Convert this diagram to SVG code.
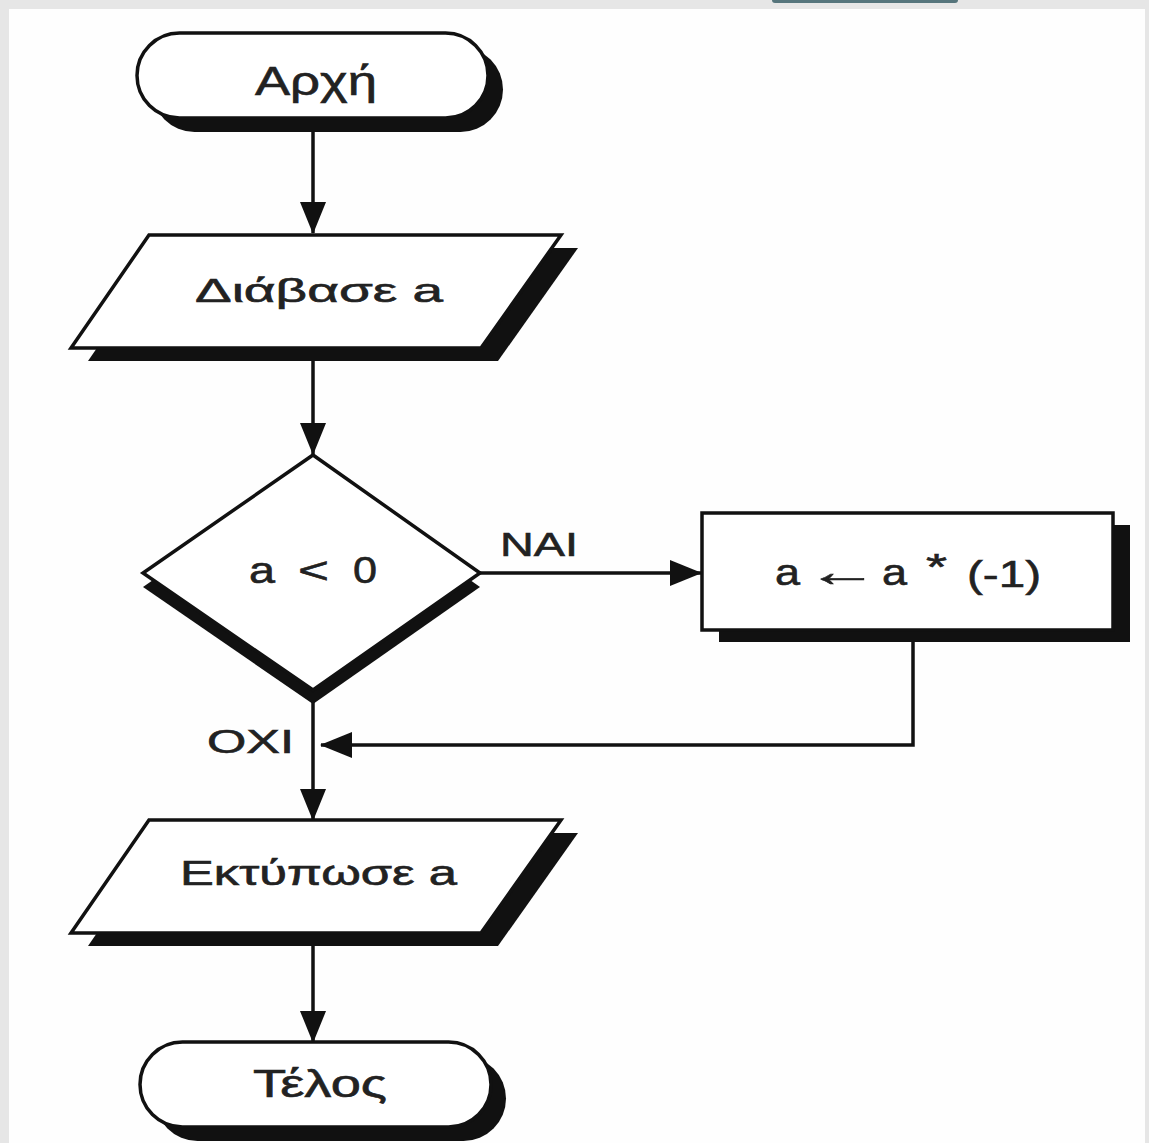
<svg xmlns="http://www.w3.org/2000/svg" width="1149" height="1143" viewBox="0 0 1149 1143">
<defs>
<style>
.bg{fill:#e6e6e6}
.panel{fill:#fefefe}
.shadow{fill:#111}
.shape{fill:#fff;stroke:#111;stroke-width:3.5;stroke-linejoin:miter}
.conn{fill:none;stroke:#111;stroke-width:3.5}
.t{font-family:"Liberation Sans","DejaVu Sans",Arial,sans-serif;fill:#222;stroke:#222;stroke-width:0.6}
</style>
<marker id="ah" markerUnits="userSpaceOnUse" markerWidth="32" markerHeight="28" refX="31" refY="14" orient="auto">
<path d="M0,1 L32,14 L0,27 Z" fill="#111"/>
</marker>
</defs>
<rect class="bg" x="0" y="0" width="1149" height="1143"/>
<rect class="panel" x="9" y="9" width="1136" height="1134"/>
<rect x="772" y="-3" width="186" height="6" rx="3" fill="#56757c"/>

<g id="connectors">
<path class="conn" d="M313,132 V233" marker-end="url(#ah)"/>
<path class="conn" d="M313,361 V454" marker-end="url(#ah)"/>
<path class="conn" d="M313,695 V820" marker-end="url(#ah)"/>
<path class="conn" d="M313,946 V1042" marker-end="url(#ah)"/>
<path class="conn" d="M480,573 H701" marker-end="url(#ah)"/>
<path class="conn" d="M913,642 V745 H321" marker-end="url(#ah)"/>
<text class="t" x="500" y="556" font-size="34" textLength="78" lengthAdjust="spacingAndGlyphs">NAI</text>
<text class="t" x="207" y="753" font-size="33" textLength="87" lengthAdjust="spacingAndGlyphs">OXI</text>
</g>

<g id="start">
<rect class="shadow" x="152" y="47" width="351" height="85" rx="42.5"/>
<rect class="shape" x="137" y="33" width="351" height="85" rx="42.5"/>
<text class="t" x="255" y="95" font-size="40" textLength="122" lengthAdjust="spacingAndGlyphs">Αρχή</text>
</g>

<g id="read">
<polygon class="shadow" points="166,248 578,248 498,361 88,361"/>
<polygon class="shape" points="149,235 561,235 481,348 71,348"/>
<text class="t" x="195" y="302" font-size="34" textLength="248" lengthAdjust="spacingAndGlyphs">Διάβασε a</text>
</g>

<g id="decision">
<polygon class="shadow" points="313,469 480,587 313,704 143,587"/>
<polygon class="shape" points="313,455 480,573 313,690 143,573"/>
<text class="t" x="249" y="583" font-size="37" textLength="26" lengthAdjust="spacingAndGlyphs">a</text>
<text class="t" x="298" y="583" font-size="37" textLength="31" lengthAdjust="spacingAndGlyphs">&lt;</text>
<text class="t" x="353" y="583" font-size="37" textLength="24" lengthAdjust="spacingAndGlyphs">0</text>
</g>

<g id="assign">
<rect class="shadow" x="719" y="525" width="411" height="117"/>
<rect class="shape" x="702" y="513" width="411" height="117"/>
<text class="t" x="775" y="585" font-size="37" textLength="25" lengthAdjust="spacingAndGlyphs">a</text>
<text class="t" x="806" y="586" font-size="42" textLength="72" lengthAdjust="spacingAndGlyphs">←</text>
<text class="t" x="882" y="585" font-size="37" textLength="25" lengthAdjust="spacingAndGlyphs">a</text>
<text class="t" x="926" y="580" font-size="37" textLength="21" lengthAdjust="spacingAndGlyphs">*</text>
<text class="t" x="967" y="587" font-size="37" textLength="74" lengthAdjust="spacingAndGlyphs">(-1)</text>
</g>

<g id="print">
<polygon class="shadow" points="166,833 578,833 498,946 88,946"/>
<polygon class="shape" points="149,820 561,820 481,933 71,933"/>
<text class="t" x="180" y="885" font-size="35" textLength="277" lengthAdjust="spacingAndGlyphs">Εκτύπωσε a</text>
</g>

<g id="end">
<rect class="shadow" x="155" y="1056" width="351" height="85" rx="42.5"/>
<rect class="shape" x="140" y="1042" width="351" height="85" rx="42.5"/>
<text class="t" x="253" y="1097" font-size="38" textLength="134" lengthAdjust="spacingAndGlyphs">Τέλος</text>
</g>
</svg>
